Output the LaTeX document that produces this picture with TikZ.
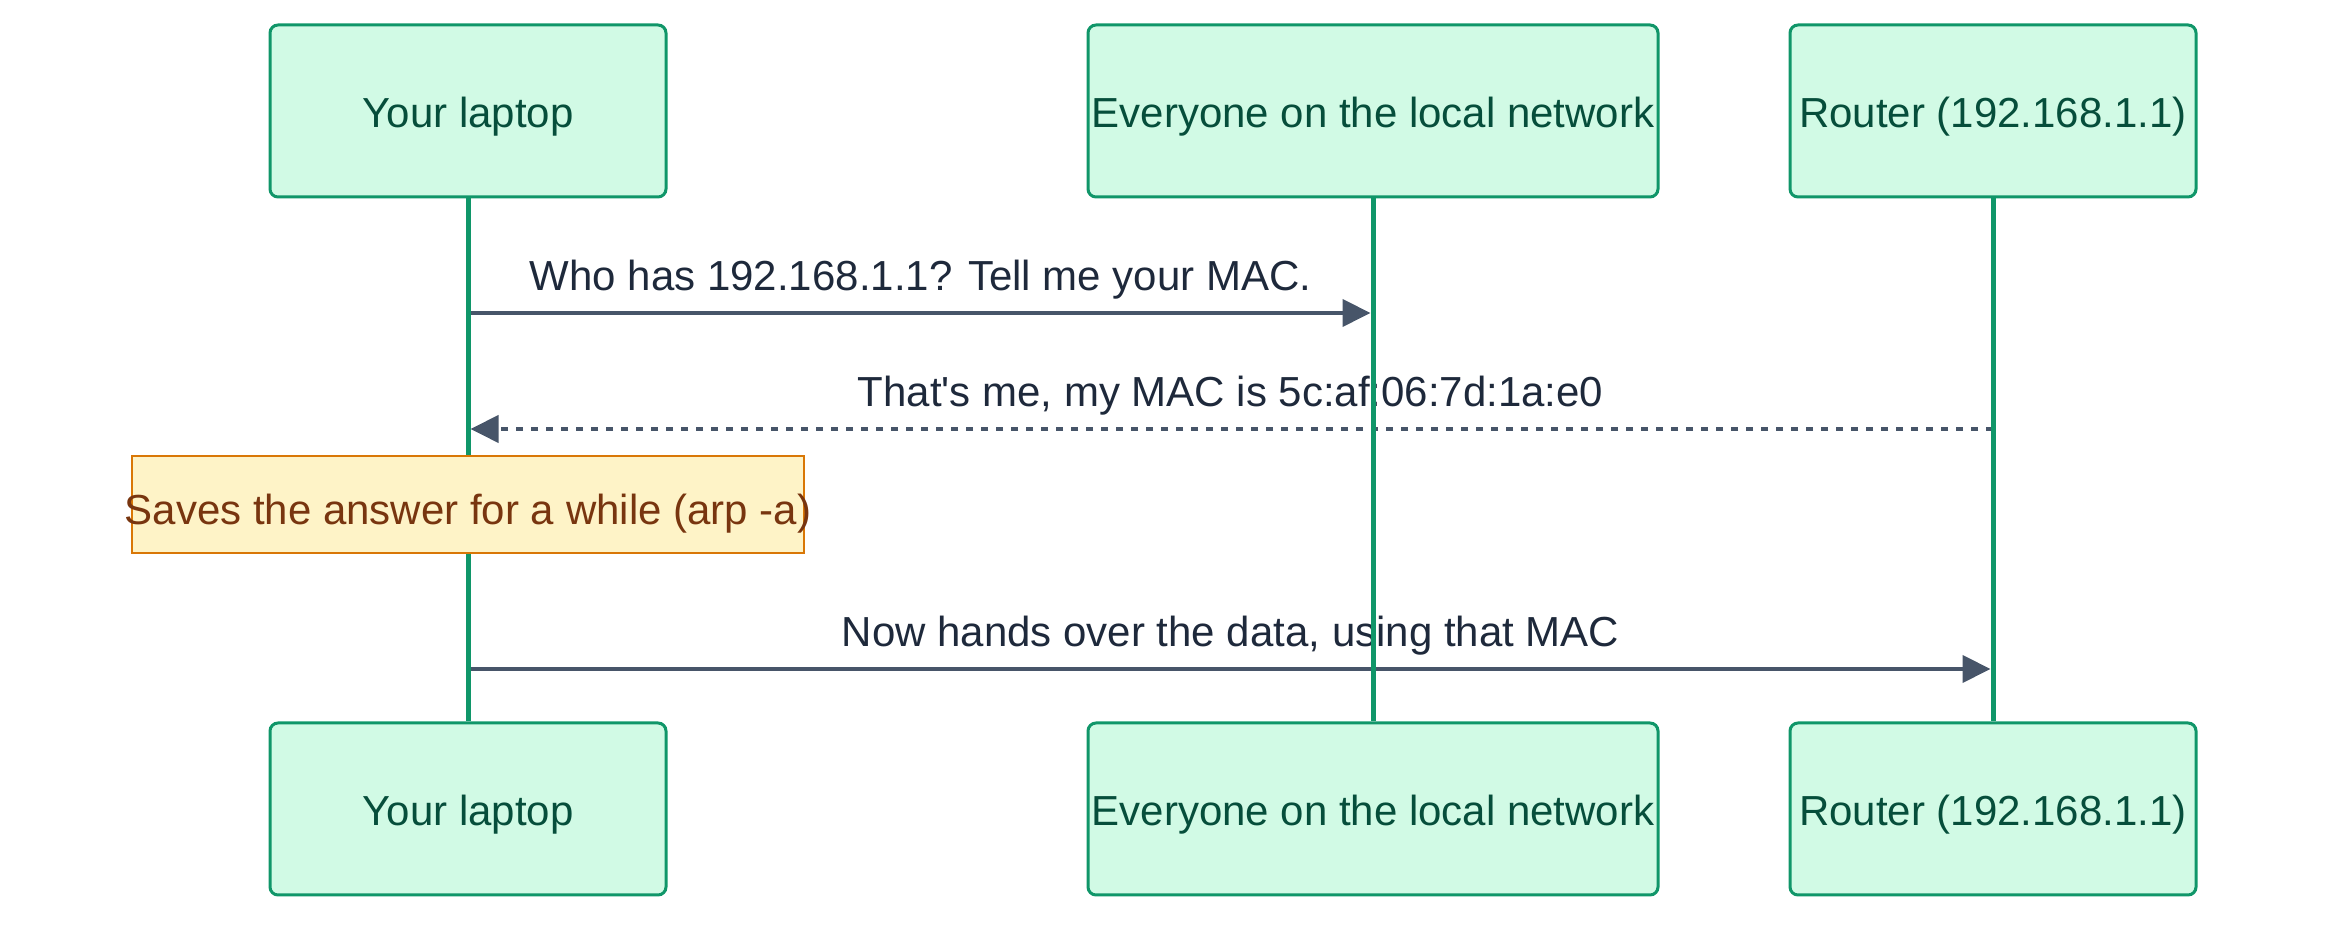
\documentclass[tikz,border=0pt]{standalone}
\usepackage{fontspec}
\setmainfont{Liberation Sans}
\usetikzlibrary{arrows.meta,positioning}
\definecolor{mintfill}{RGB}{209,250,229}
\definecolor{mintline}{RGB}{16,150,105}
\definecolor{mintink}{RGB}{6,78,59}
\definecolor{slatemsg}{RGB}{71,85,105}
\definecolor{slateink}{RGB}{30,41,59}
\definecolor{notefill}{RGB}{254,243,199}
\definecolor{noteline}{RGB}{217,119,6}
\definecolor{noteink}{RGB}{120,53,15}

\begin{document}
\begin{tikzpicture}[x=1pt,y=1pt,
  actor/.style={draw=mintline,line width=3pt,rounded corners=8pt,fill=mintfill,text=mintink,minimum height=172pt,inner sep=0pt,text height=34pt,text depth=0pt,font=\fontsize{42}{50}\selectfont},
  lifeline/.style={draw=mintline,line width=5pt},
  msg/.style={draw=slatemsg,line width=4pt,shorten >=2.5pt,-{Triangle[length=28pt,width=27pt]}},
  msgtext/.style={text=slateink,inner sep=0pt,font=\fontsize{42}{50}\selectfont},
  notebox/.style={draw=noteline,line width=2.5pt,fill=notefill,text=noteink,minimum width=672pt,minimum height=97pt,inner sep=0pt,text height=40pt,text depth=0pt,font=\fontsize{42}{50}\selectfont}]
  \useasboundingbox (0,0) rectangle (2352,933);
  \node[actor,minimum width=396pt] (laptop) at (468,822) {Your laptop};
  \node[actor,minimum width=570pt,right=419pt of laptop] (everyone) {Everyone on the local network};
  \node[actor,minimum width=406pt,right=129pt of everyone] (router) {Router (192.168.1.1)};
  \node[actor,minimum width=396pt,below=523pt of laptop] (laptopb) {Your laptop};
  \node[actor,minimum width=570pt,below=523pt of everyone] (everyoneb) {Everyone on the local network};
  \node[actor,minimum width=406pt,below=523pt of router] (routerb) {Router (192.168.1.1)};
  % message rows on the lifelines
  \coordinate (ask) at (laptop |- 0,620);
  \coordinate (askend) at (everyone |- 0,620);
  \coordinate (reply) at (router |- 0,504);
  \coordinate (replyend) at (laptop |- 0,504);
  \coordinate (send) at (laptop |- 0,264);
  \coordinate (sendend) at (router |- 0,264);
  \draw[msg] (ask) -- node[msgtext,yshift=33pt] {Who has 192.168.1.1? Tell me your MAC.} (askend);
  \draw[msg,dash pattern=on 7pt off 8pt] (reply) -- node[msgtext,yshift=33pt] {That\textquotesingle s me, my MAC is 5c:af:06:7d:1a:e0} (replyend);
  \draw[msg] (send) -- node[msgtext,yshift=33pt] {Now hands over the data, using that MAC} (sendend);
  \draw[lifeline] (laptop) -- (laptopb);
  \draw[lifeline] (everyone) -- (everyoneb);
  \draw[lifeline] (router) -- (routerb);
  \node[notebox] (cache) at (laptop |- 0,428.5) {\makebox[600pt]{Saves the answer for a while (arp -a)}};
\end{tikzpicture}
\end{document}
